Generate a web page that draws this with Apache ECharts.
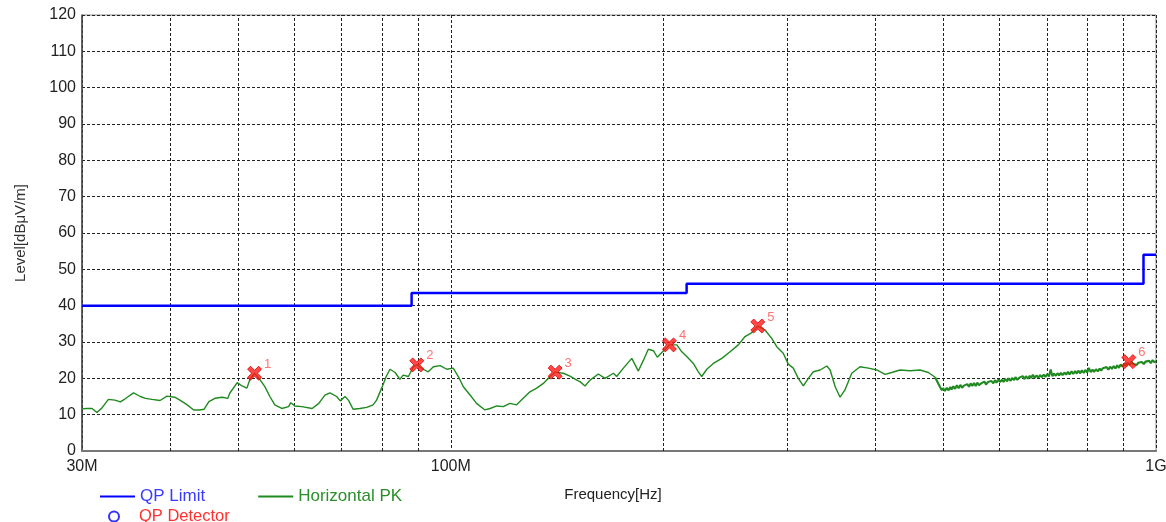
<!DOCTYPE html>
<html><head><meta charset="utf-8">
<script src="https://cdn.jsdelivr.net/npm/echarts@6/dist/echarts.min.js"></script>
<style>html,body{margin:0;padding:0;background:#fff}#c{width:1166px;height:522px}</style>
</head><body><div id="c"></div>
<script>
// ---- data (frequency in MHz, level in dBµV/m) ----
const xTickLabels = {30: '30M', 100: '100M', 1000: '1G'};
const minorGridFreq = [40, 50, 60, 70, 80, 90, 200, 300, 400, 500, 600, 700, 800, 900];

const limitFreq  = [30, 88, 216, 960, 1000];
const limitLevel = [40, 43.5, 46, 54, 54];

// Horizontal PK trace, 30 - 486 MHz
const pkFreq = [
  30.0, 30.5, 31.0, 31.5, 32.0, 32.7, 33.4, 34.0, 34.5, 35.5, 36.3, 36.9, 37.7, 38.7, 39.6, 40.6,
  41.3, 42.3, 43.2, 44.0, 44.7, 45.4, 46.3, 47.4, 48.3, 48.6, 49.8, 50.6, 51.4, 51.9, 52.7, 53.6,
  54.5, 55.4, 56.3, 57.6, 58.9, 59.3, 60.1, 61.5, 63.6, 65.0, 66.3, 67.4, 68.9, 69.7, 70.8, 71.6,
  72.7, 74.3, 76.0, 77.6, 78.5, 79.8, 81.0, 82.0, 83.4, 84.7, 85.6, 87.1, 88.5, 89.5, 91.4, 92.9,
  94.5, 96.6, 98.7, 100.8, 102.5, 104.2, 106.5, 108.8, 111.8, 113.7, 116.2, 118.7, 121.3, 124.0, 126.7, 129.5,
  132.4, 135.3, 138.3, 140.6, 144.4, 147.6, 150.9, 152.5, 155.0, 157.6, 161.9, 165.5, 170.1, 171.9, 175.7, 180.6,
  184.5, 187.6, 190.6, 193.8, 196.3, 199.2, 204.2, 209.2, 212.6, 216.1, 220.8, 224.4, 226.9, 230.7, 235.7, 242.3,
  248.9, 255.7, 261.4, 267.2, 272.5, 279.0, 285.2, 289.9, 296.1, 301.0, 306.0, 311.0, 316.2, 321.4, 326.7, 334.0,
  341.4, 345.1, 350.8, 356.5, 362.2, 370.3, 380.5, 391.0, 401.8, 412.9, 422.0, 433.6, 448.0, 462.9, 475.6, 486.1
];
const pkLevel = [
  11.6, 11.7, 11.7, 10.6, 11.8, 14.2, 14.0, 13.5, 14.3, 16.0, 15.0, 14.5, 14.2, 13.9, 15.1, 14.8,
  14.0, 12.7, 11.3, 11.3, 11.5, 13.6, 14.5, 14.8, 14.5, 15.9, 18.8, 17.9, 17.3, 19.7, 21.4, 19.7,
  17.7, 15.0, 12.7, 11.7, 12.2, 13.3, 12.4, 12.2, 11.7, 13.1, 15.4, 16.0, 15.0, 13.8, 15.0, 14.0,
  11.5, 11.7, 12.0, 12.7, 14.0, 17.3, 20.5, 22.5, 21.6, 19.7, 20.9, 20.5, 23.2, 23.7, 22.5, 21.8,
  23.2, 23.5, 22.5, 22.8, 20.5, 17.7, 15.4, 13.1, 11.3, 11.7, 12.4, 12.2, 13.1, 12.7, 14.5, 16.3,
  17.3, 18.6, 20.5, 21.7, 21.4, 20.6, 19.5, 19.1, 17.9, 19.5, 21.2, 20.0, 21.4, 20.5, 22.8, 25.5,
  22.0, 25.0, 28.0, 27.6, 25.8, 27.1, 29.2, 29.2, 27.3, 26.0, 24.1, 21.8, 20.5, 22.5, 24.1, 25.5,
  27.3, 29.2, 31.5, 32.6, 34.4, 33.3, 31.0, 28.7, 26.9, 23.9, 22.8, 20.0, 17.9, 20.0, 21.8, 22.3,
  23.4, 22.3, 17.7, 14.8, 16.8, 21.4, 23.2, 22.8, 22.3, 21.1, 21.6, 22.3, 22.1, 22.3, 21.6, 20.3
];

// Horizontal PK trace, noisy band 494 MHz - 1 GHz
const pkNoiseFreq = [
  494, 497, 499, 502, 505, 508, 511, 513, 516, 519,
  522, 525, 528, 531, 534, 537, 540, 543, 546, 549,
  552, 555, 558, 561, 565, 568, 571, 574, 578, 581,
  584, 588, 591, 594, 598, 601, 605, 608, 611, 615,
  618, 622, 625, 629, 632, 636, 640, 643, 647, 651,
  654, 658, 662, 665, 669, 673, 677, 681, 685, 689,
  693, 697, 701, 705, 709, 713, 717, 721, 725, 729,
  733, 737, 742, 746, 750, 754, 759, 763, 768, 772,
  776, 781, 785, 790, 794, 799, 803, 808, 813, 817,
  822, 827, 832, 836, 841, 846, 851, 856, 861, 866,
  871, 876, 881, 886, 891, 897, 902, 907, 912, 918,
  923, 928, 934, 939, 944, 950, 955, 961, 966, 972,
  978, 983, 989, 995, 1000
];
const pkNoiseLevel = [
  17.6, 16.7, 17.3, 16.5, 17.4, 16.7, 17.6, 16.9, 17.8, 17.1,
  18.1, 17.3, 18.2, 17.4, 18.0, 17.6, 18.4, 17.7, 18.6, 17.9,
  18.7, 17.9, 18.8, 18.1, 18.6, 18.2, 19.1, 18.3, 19.0, 18.5,
  19.3, 18.6, 19.5, 18.8, 19.7, 19.0, 19.6, 19.0, 19.8, 19.2,
  20.0, 19.3, 20.1, 19.5, 20.3, 19.6, 20.2, 19.7, 20.6, 19.8,
  20.6, 19.9, 20.7, 20.1, 21.0, 20.1, 20.8, 20.2, 20.9, 20.3,
  21.0, 20.4, 21.2, 20.5, 22.4, 20.6, 21.3, 20.7, 21.4, 20.8,
  21.5, 20.9, 21.6, 21.0, 21.8, 21.1, 21.9, 21.2, 22.0, 21.3,
  22.1, 21.4, 22.2, 21.5, 22.3, 21.6, 22.9, 21.7, 22.4, 21.8,
  22.5, 21.9, 22.7, 22.1, 22.8, 22.3, 23.1, 22.4, 23.2, 22.6,
  23.4, 22.7, 23.6, 22.9, 23.8, 23.2, 24.1, 23.4, 24.3, 23.7,
  24.6, 24.0, 24.5, 23.7, 24.3, 23.8, 24.5, 23.9, 24.6, 24.1,
  24.8, 24.2, 25.0, 24.4, 24.8
];

const markerFreq   = [52.7, 89.5, 140.6, 204.2, 272.5, 915];
const markerLevel  = [21.4, 23.7, 21.7, 29.2, 34.4, 24.6];
const markerLabels = ['1', '2', '3', '4', '5', '6'];

// ---- chart ----
const FONT = "'Liberation Sans', Arial, sans-serif";
const gridDash = {color: '#222', width: 1, type: [3, 2]};
const zip = (a, b) => a.map((v, i) => [v, b[i]]);
const PK_COLOR = '#1f8a1f';

const chart = echarts.init(document.getElementById('c'), null, {renderer: 'canvas'});
chart.setOption({
  animation: false,
  textStyle: {fontFamily: FONT},
  grid: {left: 82, right: 10, top: 15, bottom: 71, show: true, borderColor: '#888', borderWidth: 1,
         containLabel: false, outerBoundsMode: 'none'},
  xAxis: {
    type: 'log', logBase: 10, min: 30, max: 1000,
    name: 'Frequency[Hz]', nameLocation: 'middle', nameGap: 36,
    nameTextStyle: {fontSize: 15, color: '#222', fontFamily: FONT, padding: [0, 12, 0, 0]},
    axisLine: {show: true, lineStyle: {color: '#777', width: 2}},
    axisTick: {show: false},
    axisLabel: {fontSize: 16, color: '#222', fontFamily: FONT, margin: 8,
      formatter: v => xTickLabels[Math.round(v)] || ''},
    splitLine: {show: true, lineStyle: gridDash}
  },
  yAxis: {
    type: 'value', min: 0, max: 120, interval: 10,
    name: 'Level[dBμV/m]', nameLocation: 'middle', nameGap: 54, nameRotate: 90,
    nameTextStyle: {fontSize: 15, color: '#333', fontFamily: FONT},
    axisLine: {show: true, lineStyle: {color: '#444', width: 1.5}},
    axisTick: {show: false},
    axisLabel: {fontSize: 16, color: '#222', fontFamily: FONT, margin: 6},
    splitLine: {show: true, lineStyle: gridDash}
  },
  legend: [
    {
      left: 95, top: 483, itemWidth: 35, itemHeight: 2, itemGap: 53,
      textStyle: {fontSize: 17, fontFamily: FONT},
      data: [
        {name: 'QP Limit', icon: 'rect', textStyle: {color: '#3a3aff'}},
        {name: 'Horizontal PK', icon: 'rect', textStyle: {color: '#2a8f2a'}}
      ]
    },
    {
      left: 103, top: 503, itemWidth: 20, itemHeight: 10,
      textStyle: {fontSize: 16.5, fontFamily: FONT, padding: [0, 0, 0, 10]},
      data: [{name: 'QP Detector', textStyle: {color: '#ff3030'}}]
    }
  ],
  series: [
    {
      name: 'grid-minor', type: 'line', data: [], silent: true,
      markLine: {
        silent: true, symbol: 'none', z: 1, animation: false,
        label: {show: false},
        lineStyle: gridDash,
        data: minorGridFreq.map(f => ({xAxis: f}))
      }
    },
    {
      name: 'Horizontal PK', type: 'line', data: zip(pkFreq, pkLevel),
      symbol: 'none', z: 3,
      lineStyle: {color: PK_COLOR, width: 1.4},
      itemStyle: {color: PK_COLOR}
    },
    {
      name: 'Horizontal PK', type: 'line',
      data: [[pkFreq[pkFreq.length - 1], pkLevel[pkLevel.length - 1]]].concat(zip(pkNoiseFreq, pkNoiseLevel)),
      symbol: 'none', z: 3,
      lineStyle: {color: PK_COLOR, width: 2.1},
      itemStyle: {color: PK_COLOR}
    },
    {
      name: 'QP Limit', type: 'line', step: 'end', data: zip(limitFreq, limitLevel),
      symbol: 'none', z: 4,
      lineStyle: {color: '#0000ff', width: 2.5},
      itemStyle: {color: '#0000ff'}
    },
    {
      name: 'QP Detector', type: 'scatter', data: [],
      symbol: 'emptyCircle', symbolSize: 8,
      itemStyle: {color: '#0000ff', borderColor: '#0000ff', borderWidth: 2}
    },
    {
      name: 'markers', type: 'scatter', z: 5,
      data: zip(markerFreq, markerLevel),
      symbol: 'path://M0,2.5 L2.5,0 L6,3.5 L9.5,0 L12,2.5 L8.5,6 L12,9.5 L9.5,12 L6,8.5 L2.5,12 L0,9.5 L3.5,6 Z',
      symbolSize: 14,
      itemStyle: {color: '#ff1a1a', borderColor: '#e00000', borderWidth: 1},
      label: {
        show: true, position: 'right', distance: 2, offset: [0, -9],
        formatter: p => markerLabels[p.dataIndex],
        color: '#ff5050', fontSize: 13, fontFamily: FONT
      }
    }
  ]
});
</script>
</body></html>
